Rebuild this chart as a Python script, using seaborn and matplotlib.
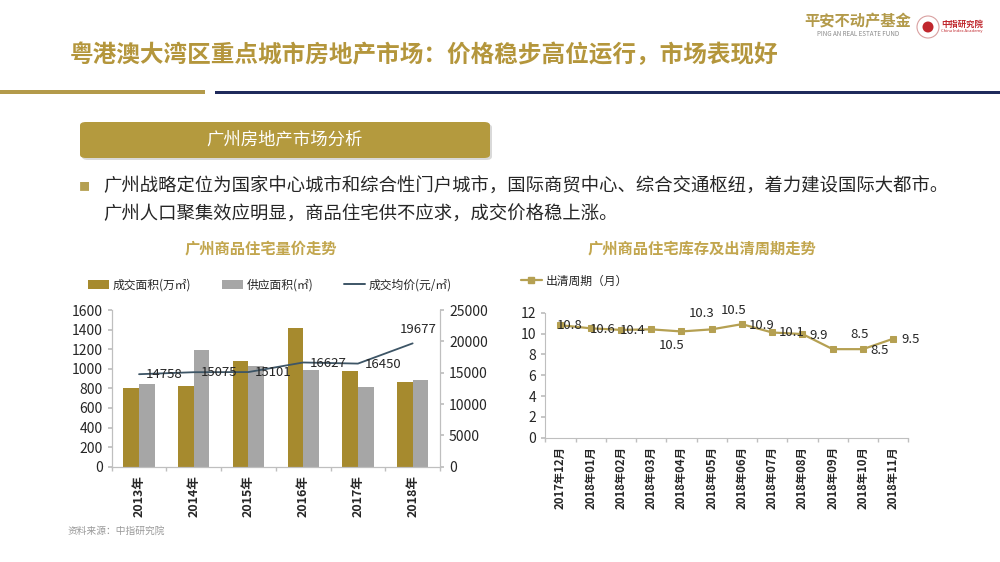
import matplotlib
matplotlib.use("Agg")
import matplotlib.pyplot as plt
import seaborn as sns
import pandas as pd
import numpy as np
from matplotlib.patches import Patch, FancyBboxPatch, Rectangle, Ellipse
from matplotlib.lines import Line2D

# ---------------- data ----------------
years = ["2013年", "2014年", "2015年", "2016年", "2017年", "2018年"]
deal_area = [805, 825, 1080, 1415, 980, 860]          # 成交面积(万㎡)
supply_area = [845, 1195, 1030, 985, 815, 890]        # 供应面积(㎡)
avg_price = [14758, 15075, 15101, 16627, 16450, 19677]  # 成交均价(元/㎡)

months = ["2017年12月", "2018年01月", "2018年02月", "2018年03月", "2018年04月",
          "2018年05月", "2018年06月", "2018年07月", "2018年08月", "2018年09月",
          "2018年10月", "2018年11月"]
clear_cycle = [10.8, 10.5, 10.35, 10.4, 10.2, 10.4, 10.9, 10.1, 9.95, 8.5, 8.5, 9.5]
clear_labels = ["10.8", "10.6", "10.4", "10.5", "10.3", "10.5", "10.9", "10.1",
                "9.9", "8.5", "8.5", "9.5"]

# ---------------- style ----------------
sns.set_theme(style="white")
plt.rcParams['font.family'] = ['Noto Sans CJK SC', 'DejaVu Sans']
plt.rcParams['axes.unicode_minus'] = False

GOLD = "#a68a2e"
GRAY = "#a6a6a6"
LINE1 = "#3d5566"
GOLD2 = "#b5a052"
TITLE_GOLD = "#b4963c"
SPINE = "#bfbfbf"
TXT = "#262626"

fig = plt.figure(figsize=(10, 5.62), dpi=100)

def fx(px):
    return px / 1000.0

def fy(py):
    return 1 - py / 562.0

# ---------------- header decorations ----------------
fig.text(fx(70), fy(55), "粤港澳大湾区重点城市房地产市场：价格稳步高位运行，市场表现好",
         fontsize=17, fontweight="bold", color=TITLE_GOLD, ha="left", va="center")
fig.add_artist(Rectangle((0, fy(94)), fx(205), 4 / 562, transform=fig.transFigure,
                         color="#b39a4a", lw=0))
fig.add_artist(Rectangle((fx(215), fy(94)), fx(785), 3.5 / 562, transform=fig.transFigure,
                         color="#1f2a5c", lw=0))

# logo
fig.text(fx(858), fy(21), "平安不动产基金", fontsize=11, fontweight="bold",
         color="#b39a4a", ha="center", va="center")
fig.text(fx(858), fy(34), "PING AN REAL ESTATE FUND", fontsize=4.5,
         color="#8a8a8a", ha="center", va="center")
fig.add_artist(Ellipse((fx(928), fy(27)), fx(22), 22 / 562, transform=fig.transFigure,
                       facecolor="white", edgecolor="#d9a0a0", lw=0.8))
fig.add_artist(Ellipse((fx(928), fy(27)), fx(11), 11 / 562, transform=fig.transFigure,
                       facecolor="#c0272d", edgecolor="none"))
fig.text(fx(962), fy(24), "中指研究院", fontsize=6, fontweight="bold",
         color="#c0272d", ha="center", va="center")
fig.text(fx(962), fy(31), "China Index Academy", fontsize=3, color="#c0272d",
         ha="center", va="center")

# section box with shadow
fig.add_artist(FancyBboxPatch((fx(82), fy(160)), fx(410), 36 / 562,
                              boxstyle="round,pad=0,rounding_size=0.006",
                              transform=fig.transFigure, facecolor="#d0d0d0",
                              edgecolor="none", alpha=0.8))
fig.add_artist(FancyBboxPatch((fx(80), fy(158)), fx(410), 36 / 562,
                              boxstyle="round,pad=0,rounding_size=0.006",
                              transform=fig.transFigure, facecolor="#b49a3e",
                              edgecolor="none"))
fig.text(fx(285), fy(140), "广州房地产市场分析", fontsize=12.5, color="white",
         ha="center", va="center")

# bullet text
fig.text(fx(84), fy(187), "■", fontsize=8, color="#b5a052", ha="center", va="center")
fig.text(fx(103), fy(187),
         "广州战略定位为国家中心城市和综合性门户城市，国际商贸中心、综合交通枢纽，着力建设国际大都市。",
         fontsize=13.2, color=TXT, ha="left", va="center")
fig.text(fx(103), fy(215), "广州人口聚集效应明显，商品住宅供不应求，成交价格稳上涨。",
         fontsize=13.2, color=TXT, ha="left", va="center")

# chart titles
fig.text(fx(261), fy(248), "广州商品住宅量价走势", fontsize=11, fontweight="bold",
         color="#c2a64e", ha="center", va="center")
fig.text(fx(702), fy(248), "广州商品住宅库存及出清周期走势", fontsize=11, fontweight="bold",
         color="#c2a64e", ha="center", va="center")

# source
fig.text(fx(68), fy(531), "资料来源：中指研究院", fontsize=7, color="#999999",
         ha="left", va="center")

# ---------------- chart 1 ----------------
ax1 = fig.add_axes([0.1117, fy(466.7), 0.3283, (466.7 - 310) / 562])
df1 = pd.DataFrame({
    "year": years * 2,
    "value": deal_area + supply_area,
    "series": ["成交面积(万㎡)"] * len(years) + ["供应面积(㎡)"] * len(years),
})
sns.barplot(data=df1, x="year", y="value", hue="series",
            palette=[GOLD, GRAY], width=0.57, ax=ax1, legend=False,
            saturation=1, edgecolor="none")
ax1.set_xlim(-0.5, 5.5)
ax1.set_ylim(0, 1600)
ax1.set_yticks(np.arange(0, 1601, 200))
ax1.set_xlabel("")
ax1.set_ylabel("")

ax1b = ax1.twinx()
xpos = np.arange(len(years))
sns.lineplot(x=xpos, y=avg_price, ax=ax1b, color=LINE1, lw=1.3)
ax1b.set_ylim(0, 25000)
ax1b.set_yticks(np.arange(0, 25001, 5000))
ax1b.set_ylabel("")
ax1b.set_xlim(-0.5, 5.5)

price_offsets = [(18, 0), (18, 0), (18, 0), (18, -1), (18, -1), (4, 5)]
for xi, v, off in zip(xpos, avg_price, price_offsets):
    ax1b.annotate(f"{v}", xy=(xi, v), xytext=off, textcoords="offset points",
                  ha="center", va="center" if off[1] <= 0 else "bottom",
                  fontsize=9.5, color=TXT)

for a in (ax1, ax1b):
    for s in a.spines.values():
        s.set_color(SPINE)
        s.set_linewidth(0.8)
    a.spines["top"].set_visible(False)
ax1.tick_params(axis="y", labelsize=10, colors=TXT, length=3, color=SPINE, left=True)
ax1b.tick_params(axis="y", labelsize=10, colors=TXT, length=3, color=SPINE, right=True)
ax1.set_xticks(xpos)
ax1.set_xticklabels(years, rotation=90, fontsize=9, fontweight="bold", color=TXT)
ax1.set_xticks(np.arange(-0.5, 5.6, 1), minor=True)
ax1.tick_params(axis="x", which="major", length=0, pad=6)
ax1.tick_params(axis="x", which="minor", length=3, color=SPINE, bottom=True)

handles1 = [Patch(facecolor=GOLD, edgecolor="none"),
            Patch(facecolor=GRAY, edgecolor="none"),
            Line2D([0], [0], color=LINE1, lw=1.4)]
labels1 = ["成交面积(万㎡)", "供应面积(㎡)", "成交均价(元/㎡)"]
fig.legend(handles1, labels1, loc="center", bbox_to_anchor=(fx(270), fy(285)),
           ncol=3, frameon=False, fontsize=8.5, handlelength=1.8, handleheight=0.7,
           columnspacing=2.6, handletextpad=0.3, labelcolor=TXT)

# ---------------- chart 2 ----------------
ax2 = fig.add_axes([fx(545.3), fy(437.7), fx(363), 125 / 562])
mx = np.arange(len(months))
sns.lineplot(x=mx, y=clear_cycle, ax=ax2, color=GOLD2, lw=1.6, marker="s",
             markersize=5, markeredgecolor=GOLD2, markerfacecolor=GOLD2)
ax2.set_xlim(-0.5, 11.5)
ax2.set_ylim(0, 12)
ax2.set_yticks(np.arange(0, 13, 2))
label_offsets = [(7, 0), (8.6, -0.7), (8.6, -0.7), (14.4, -11.5), (14.4, 13),
                 (15.8, 13.4), (14, -0.7), (13.7, 0), (11.7, -0.7), (19.2, 10.8),
                 (12, -0.7), (12.5, -0.7)]
for xi, v, lab, off in zip(mx, clear_cycle, clear_labels, label_offsets):
    ax2.annotate(lab, xy=(xi, v), xytext=off, textcoords="offset points",
                 ha="center", va="center", fontsize=9.5, color=TXT)
for s in ax2.spines.values():
    s.set_color(SPINE)
    s.set_linewidth(0.8)
ax2.spines["top"].set_visible(False)
ax2.spines["right"].set_visible(False)
ax2.tick_params(axis="y", labelsize=10, colors=TXT, length=3, color=SPINE, left=True)
ax2.set_xticks(mx)
ax2.set_xticklabels(months, rotation=90, fontsize=8.2, fontweight="bold", color=TXT)
ax2.set_xticks(np.arange(-0.5, 11.6, 1), minor=True)
ax2.tick_params(axis="x", which="major", length=0, pad=6)
ax2.tick_params(axis="x", which="minor", length=3, color=SPINE, bottom=True)

h2 = [Line2D([0], [0], color=GOLD2, lw=1.6, marker="s", markersize=5)]
fig.legend(h2, ["出清周期（月）"], loc="center left", bbox_to_anchor=(fx(510), fy(281)),
           frameon=False, fontsize=8.5, handlelength=1.8, handletextpad=0.3,
           labelcolor=TXT)

fig.savefig("out.png", dpi=100)
